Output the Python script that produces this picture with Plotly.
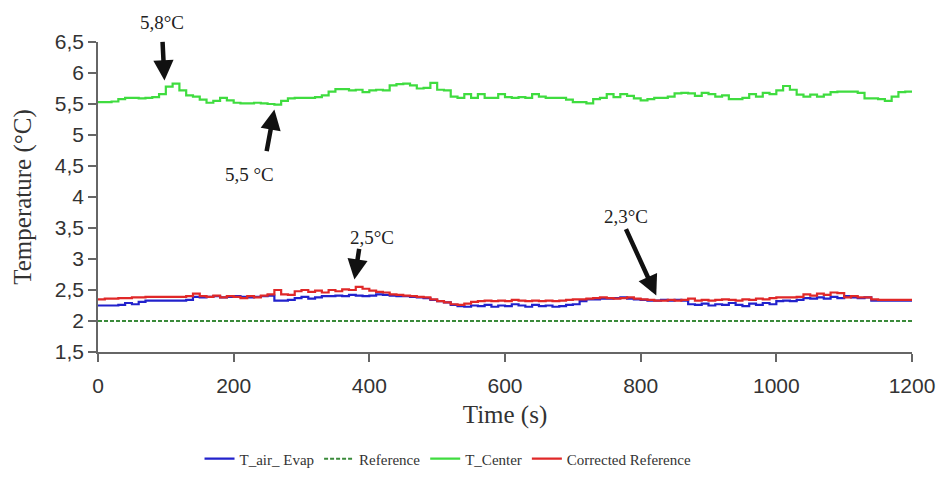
import plotly.graph_objects as go

# ---- data ----
time_s = list(range(0, 1201, 10))

t_center = [
    5.53, 5.53, 5.54, 5.58, 5.60, 5.60, 5.59, 5.60, 5.61, 5.66,
    5.78, 5.83, 5.72, 5.64, 5.62, 5.57, 5.52, 5.55, 5.60, 5.56,
    5.52, 5.51, 5.51, 5.52, 5.51, 5.50, 5.49, 5.55, 5.59, 5.60,
    5.60, 5.60, 5.61, 5.64, 5.70, 5.74, 5.74, 5.72, 5.73, 5.69,
    5.72, 5.73, 5.72, 5.80, 5.82, 5.83, 5.80, 5.75, 5.76, 5.84,
    5.73, 5.72, 5.62, 5.60, 5.66, 5.60, 5.66, 5.60, 5.60, 5.66,
    5.61, 5.60, 5.61, 5.60, 5.66, 5.62, 5.60, 5.60, 5.60, 5.57,
    5.53, 5.53, 5.51, 5.58, 5.60, 5.66, 5.61, 5.66, 5.63, 5.59,
    5.56, 5.58, 5.60, 5.60, 5.62, 5.67, 5.68, 5.67, 5.63, 5.68,
    5.66, 5.62, 5.64, 5.58, 5.58, 5.60, 5.66, 5.62, 5.68, 5.66,
    5.72, 5.79, 5.73, 5.65, 5.62, 5.65, 5.62, 5.65, 5.69, 5.70,
    5.70, 5.70, 5.68, 5.59, 5.59, 5.58, 5.55, 5.62, 5.69, 5.70,
    5.70]

t_air_evap = [
    2.25, 2.25, 2.25, 2.26, 2.29, 2.27, 2.31, 2.33, 2.33, 2.33,
    2.33, 2.33, 2.33, 2.34, 2.39, 2.38, 2.39, 2.40, 2.38, 2.39,
    2.40, 2.39, 2.38, 2.39, 2.40, 2.41, 2.33, 2.33, 2.34, 2.37,
    2.39, 2.36, 2.38, 2.40, 2.40, 2.41, 2.40, 2.42, 2.41, 2.40,
    2.41, 2.43, 2.42, 2.41, 2.40, 2.40, 2.39, 2.38, 2.37, 2.34,
    2.32, 2.30, 2.26, 2.24, 2.23, 2.25, 2.24, 2.26, 2.23, 2.25,
    2.24, 2.27, 2.25, 2.23, 2.26, 2.24, 2.25, 2.23, 2.24, 2.26,
    2.27, 2.32, 2.35, 2.35, 2.36, 2.36, 2.37, 2.38, 2.36, 2.35,
    2.34, 2.33, 2.33, 2.34, 2.33, 2.34, 2.33, 2.27, 2.26, 2.28,
    2.25, 2.27, 2.26, 2.29, 2.26, 2.24, 2.28, 2.26, 2.29, 2.27,
    2.32, 2.33, 2.32, 2.34, 2.37, 2.36, 2.38, 2.36, 2.39, 2.37,
    2.40, 2.38, 2.37, 2.38, 2.33, 2.33, 2.33, 2.33, 2.33, 2.33,
    2.33]

corrected_reference = [
    2.35, 2.36, 2.36, 2.37, 2.37, 2.38, 2.38, 2.39, 2.39, 2.39,
    2.39, 2.39, 2.39, 2.40, 2.44, 2.40, 2.39, 2.41, 2.38, 2.40,
    2.39, 2.37, 2.40, 2.38, 2.41, 2.43, 2.50, 2.43, 2.42, 2.48,
    2.50, 2.47, 2.49, 2.46, 2.50, 2.48, 2.51, 2.50, 2.55, 2.52,
    2.49, 2.47, 2.46, 2.43, 2.42, 2.41, 2.40, 2.39, 2.38, 2.35,
    2.32, 2.30, 2.27, 2.26, 2.28, 2.31, 2.32, 2.33, 2.32, 2.33,
    2.32, 2.34, 2.33, 2.32, 2.33, 2.32, 2.33, 2.32, 2.33, 2.34,
    2.35, 2.35, 2.36, 2.37, 2.38, 2.37, 2.36, 2.37, 2.38, 2.36,
    2.35, 2.34, 2.33, 2.33, 2.34, 2.33, 2.34, 2.36, 2.33, 2.34,
    2.33, 2.34, 2.35, 2.34, 2.33, 2.35, 2.34, 2.36, 2.35, 2.37,
    2.38, 2.38, 2.38, 2.39, 2.43, 2.41, 2.44, 2.42, 2.46, 2.45,
    2.38, 2.40, 2.38, 2.38, 2.35, 2.34, 2.34, 2.34, 2.34, 2.34,
    2.34]

reference_time = [0, 1200]
reference_value = [2.0, 2.0]

x_ticks = [0, 200, 400, 600, 800, 1000, 1200]
y_ticks = [1.5, 2, 2.5, 3, 3.5, 4, 4.5, 5, 5.5, 6, 6.5]
x_range = [0, 1200]
y_range = [1.5, 6.5]

# annotation labels: (text, time, temperature)
labels = [("5,8°C", 94, 6.82), ("5,5 °C", 224, 4.36),
          ("2,5°C", 404, 3.34), ("2,3°C", 778, 3.69)]
# arrows: head (time, temperature), tail offset (ax, ay) in px
arrows = [(98, 5.88, -2, -40), (260, 5.41, -8, 43),
          (378, 2.67, 5, -32), (823, 2.41, -31, -68)]

serif = "Liberation Serif"
sans = "Liberation Sans"

fig = go.Figure()
fig.add_trace(go.Scatter(x=time_s, y=t_center, mode="lines", name="T_Center",
                         line=dict(color="#3fdc3f", width=2.2), line_shape="hv",
                         legendrank=3))
fig.add_trace(go.Scatter(x=reference_time, y=reference_value, mode="lines", name="Reference",
                         line=dict(color="#3a8a3a", width=2, dash="4px,2px"),
                         legendrank=2))
fig.add_trace(go.Scatter(x=time_s, y=t_air_evap, mode="lines", name="T_air_ Evap",
                         line=dict(color="#2222cc", width=2.2), line_shape="hv",
                         legendrank=1))
fig.add_trace(go.Scatter(x=time_s, y=corrected_reference, mode="lines", name="Corrected Reference",
                         line=dict(color="#e02828", width=2.2), line_shape="hv",
                         legendrank=4))

annots = []
for txt, x, y in labels:
    px = (x - x_range[0]) / (x_range[1] - x_range[0])
    py = (y - y_range[0]) / (y_range[1] - y_range[0])
    annots.append(dict(text=txt, x=px, y=py, xref="paper", yref="paper", showarrow=False,
                       xanchor="center", yanchor="middle",
                       font=dict(family=serif, size=19, color="#222")))
for x, y, ax, ay in arrows:
    annots.append(dict(text="", x=x, y=y, xref="x", yref="y", ax=ax, ay=ay,
                       showarrow=True, arrowhead=2, arrowsize=0.9, arrowwidth=4.5,
                       arrowcolor="#111"))

fig.update_layout(
    width=939, height=487,
    margin=dict(l=98, r=27, t=42, b=132),
    paper_bgcolor="white", plot_bgcolor="white",
    separators=",.",
    showlegend=True,
    legend=dict(orientation="h", x=0.43, xanchor="center", y=-0.345, yanchor="middle",
                font=dict(family=serif, size=15, color="#333"), itemwidth=30,
                tracegroupgap=0),
    annotations=annots,
)
fig.update_xaxes(range=x_range, tickvals=x_ticks, showgrid=False, zeroline=False,
                 automargin=False, ticklabelstandoff=6,
                 showline=True, linecolor="#666", linewidth=1.5,
                 ticks="outside", ticklen=8, tickcolor="#666", tickwidth=1.5,
                 tickfont=dict(family=sans, size=21, color="#333"),
                 title=dict(text="Time (s)", font=dict(family=serif, size=25, color="#333"),
                            standoff=10))
fig.update_yaxes(range=y_range, tickvals=y_ticks, showgrid=False, zeroline=False,
                 automargin=False,
                 showline=True, linecolor="#666", linewidth=1.5,
                 ticks="outside", ticklen=8, tickcolor="#666", tickwidth=1.5,
                 tickfont=dict(family=sans, size=21, color="#333"),
                 title=dict(text="Temperature (°C)", font=dict(family=serif, size=25, color="#333"),
                            standoff=16))

fig.write_html("out.html")
